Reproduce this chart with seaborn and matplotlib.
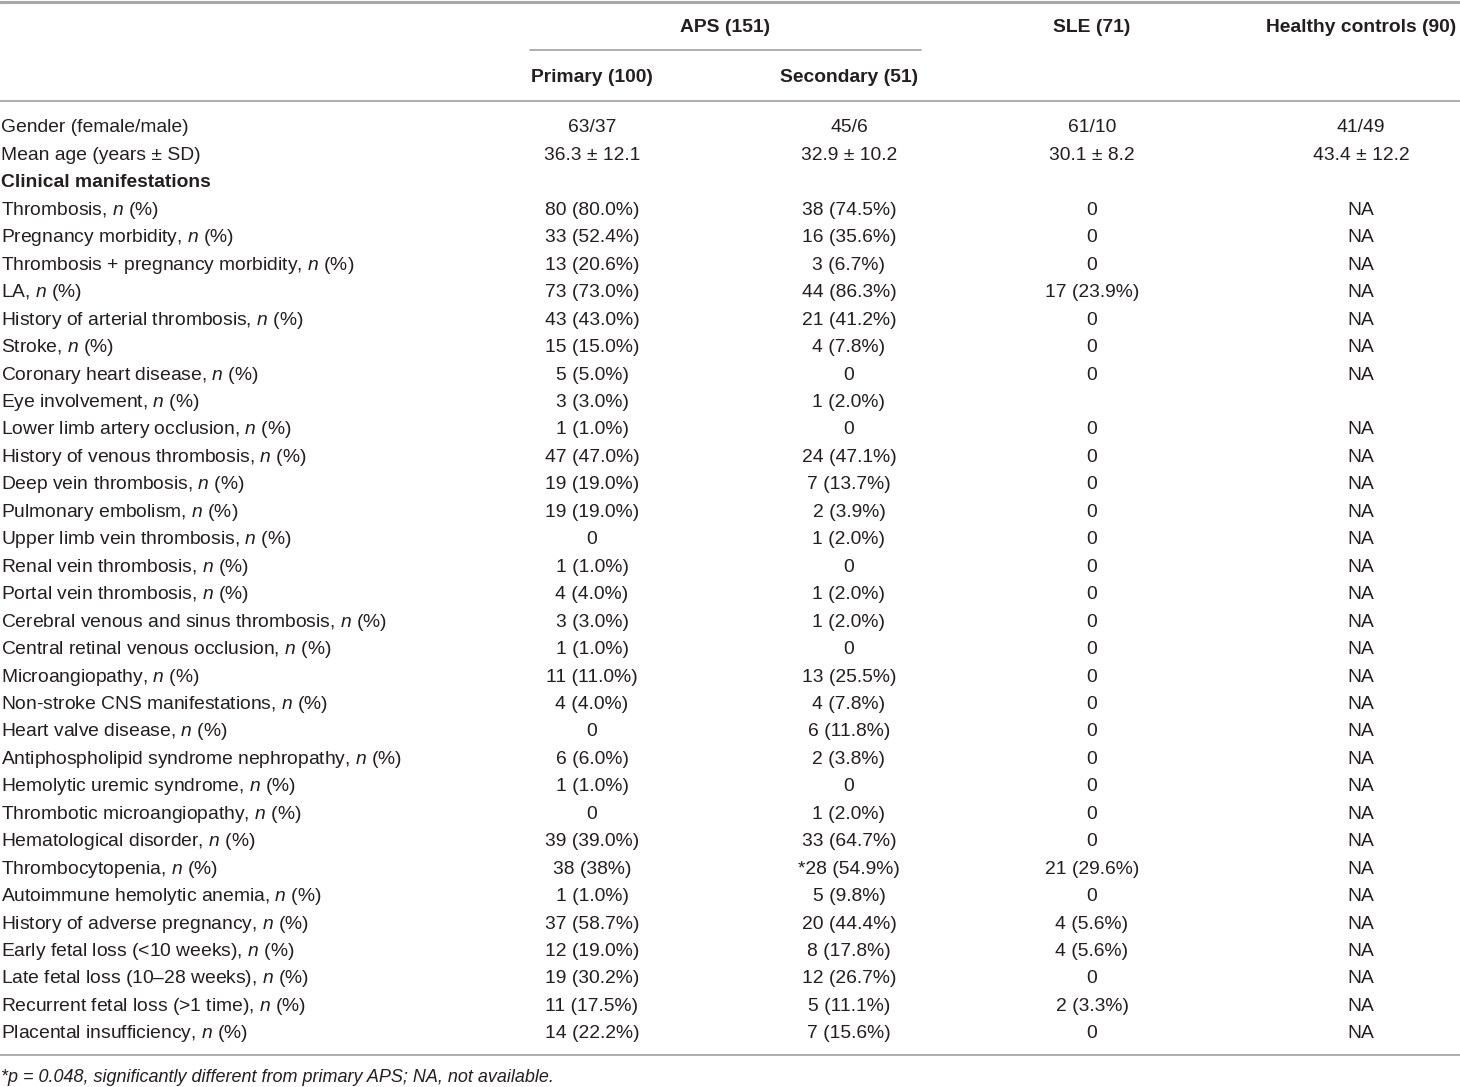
import pandas as pd
import matplotlib.pyplot as plt
import seaborn as sns

sns.set_theme(style="white")
fam = ['Liberation Sans', 'DejaVu Sans']
plt.rcParams['font.family'] = fam
plt.rcParams['mathtext.fontset'] = 'custom'
plt.rcParams['mathtext.rm'] = 'Liberation Sans'
plt.rcParams['mathtext.it'] = 'Liberation Sans:italic'

N = r", $\it{n}$ (%)"

labels = ["Gender (female/male)", "Mean age (years ± SD)", "Clinical manifestations",
          "Thrombosis" + N, "Pregnancy morbidity" + N, "Thrombosis + pregnancy morbidity" + N,
          "LA" + N, "History of arterial thrombosis" + N, "Stroke" + N,
          "Coronary heart disease" + N, "Eye involvement" + N, "Lower limb artery occlusion" + N,
          "History of venous thrombosis" + N, "Deep vein thrombosis" + N, "Pulmonary embolism" + N,
          "Upper limb vein thrombosis" + N, "Renal vein thrombosis" + N, "Portal vein thrombosis" + N,
          "Cerebral venous and sinus thrombosis" + N, "Central retinal venous occlusion" + N,
          "Microangiopathy" + N, "Non-stroke CNS manifestations" + N, "Heart valve disease" + N,
          "Antiphospholipid syndrome nephropathy" + N, "Hemolytic uremic syndrome" + N,
          "Thrombotic microangiopathy" + N, "Hematological disorder" + N, "Thrombocytopenia" + N,
          "Autoimmune hemolytic anemia" + N, "History of adverse pregnancy" + N,
          "Early fetal loss (<10 weeks)" + N, "Late fetal loss (10–28 weeks)" + N,
          "Recurrent fetal loss (>1 time)" + N, "Placental insufficiency" + N]

primary = ["63/37", "36.3 ± 12.1", "", "80 (80.0%)", "33 (52.4%)", "13 (20.6%)", "73 (73.0%)",
           "43 (43.0%)", "15 (15.0%)", "5 (5.0%)", "3 (3.0%)", "1 (1.0%)", "47 (47.0%)",
           "19 (19.0%)", "19 (19.0%)", "0", "1 (1.0%)", "4 (4.0%)", "3 (3.0%)", "1 (1.0%)",
           "11 (11.0%)", "4 (4.0%)", "0", "6 (6.0%)", "1 (1.0%)", "0", "39 (39.0%)", "38 (38%)",
           "1 (1.0%)", "37 (58.7%)", "12 (19.0%)", "19 (30.2%)", "11 (17.5%)", "14 (22.2%)"]

secondary = ["45/6", "32.9 ± 10.2", "", "38 (74.5%)", "16 (35.6%)", "3 (6.7%)", "44 (86.3%)",
             "21 (41.2%)", "4 (7.8%)", "0", "1 (2.0%)", "0", "24 (47.1%)", "7 (13.7%)",
             "2 (3.9%)", "1 (2.0%)", "0", "1 (2.0%)", "1 (2.0%)", "0", "13 (25.5%)", "4 (7.8%)",
             "6 (11.8%)", "2 (3.8%)", "0", "1 (2.0%)", "33 (64.7%)", "*28 (54.9%)", "5 (9.8%)",
             "20 (44.4%)", "8 (17.8%)", "12 (26.7%)", "5 (11.1%)", "7 (15.6%)"]

sle = ["61/10", "30.1 ± 8.2", "", "0", "0", "0", "17 (23.9%)", "0", "0", "0", "", "0", "0",
       "0", "0", "0", "0", "0", "0", "0", "0", "0", "0", "0", "0", "0", "0", "21 (29.6%)",
       "0", "4 (5.6%)", "4 (5.6%)", "0", "2 (3.3%)", "0"]

healthy = ["41/49", "43.4 ± 12.2", ""] + ["NA"] * 7 + [""] + ["NA"] * 23

df = pd.DataFrame({"label": labels, "primary": primary, "secondary": secondary,
                   "sle": sle, "healthy": healthy})

fig = plt.figure(figsize=(14.6, 10.87), dpi=100)
ax = fig.add_axes([0, 0, 1, 1])
ax.set_xlim(0, 1460)
ax.set_ylim(1087, 0)
ax.axis("off")

fs = 13.9
col_x = {"primary": 592, "secondary": 849, "sle": 1092, "healthy": 1361}
txt = "#231f20"
line_c = "#a8a8a8"

# rules
ax.plot([0, 1460], [2, 2], color=line_c, lw=2.2)
ax.plot([530, 921], [50, 50], color=line_c, lw=1.3)
ax.plot([0, 1460], [101, 101], color=line_c, lw=1.3)
ax.plot([0, 1460], [1055, 1055], color=line_c, lw=1.3)

# header
hdr = dict(fontsize=fs, fontweight="bold", ha="center", va="center", color=txt)
ax.text(725, 27, "APS (151)", **hdr)
ax.text(1092, 27, "SLE (71)", **hdr)
ax.text(1361, 27, "Healthy controls (90)", **hdr)
ax.text(592, 77, "Primary (100)", **hdr)
ax.text(849, 77, "Secondary (51)", **hdr)

y0, dy = 128, 27.45
for i, row in df.iterrows():
    y = y0 + i * dy
    bold = row["label"] == "Clinical manifestations"
    ax.text(1, y, row["label"], fontsize=fs, ha="left", va="center", color=txt,
            fontweight="bold" if bold else "normal")
    for c, x in col_x.items():
        ax.text(x, y, row[c], fontsize=fs, ha="center", va="center", color=txt)

ax.text(1, 1077, "*p = 0.048, significantly different from primary APS; NA, not available.",
        fontsize=13, style="italic", ha="left", va="center", color=txt)

fig.savefig("out.png", dpi=100)
